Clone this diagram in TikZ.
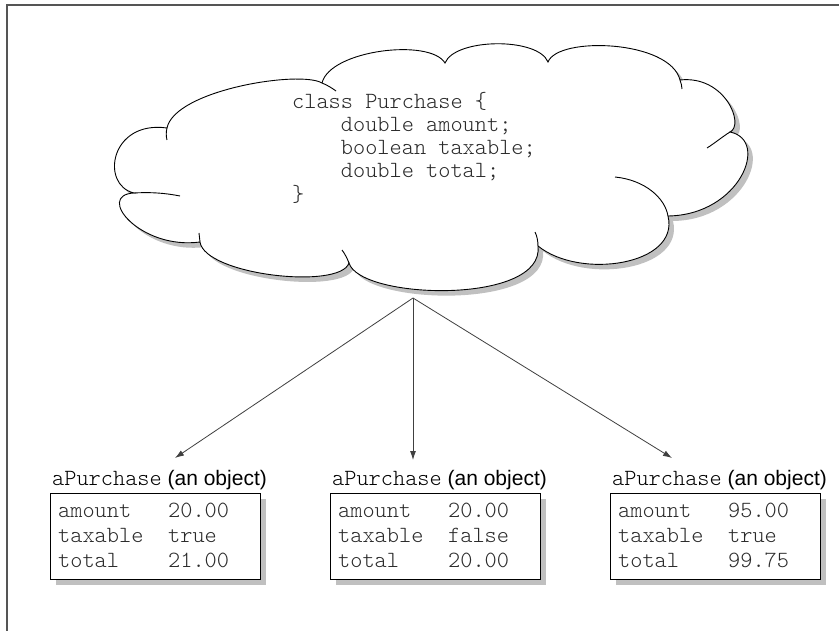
\documentclass[tikz,border=0pt]{standalone}
\usepackage{fontspec}
\setmainfont{Liberation Sans}
\newfontfamily\codefont{lmmonolt10-regular.otf}
\usetikzlibrary{arrows.meta,shadows}
\definecolor{shadowgray}{HTML}{C0C0C0}
\definecolor{codegray}{HTML}{2A2A2A}
\definecolor{framegray}{HTML}{555555}
\newcommand{\cloudoutline}{(134,193) .. controls (100,185) and (110,120) .. (167,128)
 .. controls (175,90) and (300,70) .. (322,83)
 .. controls (330,50) and (430,38) .. (445,63)
 .. controls (455,38) and (538,37) .. (548,62)
 .. controls (558,36) and (670,40) .. (680,80)
 .. controls (725,75) and (745,125) .. (730,132)
 .. controls (770,140) and (740,215) .. (668,216)
 .. controls (680,265) and (580,280) .. (538,246)
 .. controls (545,305) and (360,300) .. (349,263)
 .. controls (340,290) and (205,275) .. (200,242)
 .. controls (140,250) and (95,195) .. (134,193) -- cycle}
\tikzset{
  cloudline/.style={draw=black, line width=0.9pt},
  codetext/.style={font=\codefont\fontsize{23.2}{23}\selectfont, text=codegray, inner sep=0pt},
  boxtext/.style={font=\codefont\fontsize{23.2}{25.5}\selectfont, text=codegray, inner sep=0pt},
  lbl/.style={font=\fontsize{21}{25}\selectfont, text=black, inner sep=0pt},
  objbox/.style={draw=black, fill=white, line width=0.9pt, inner sep=0pt,
    minimum width=210pt, minimum height=86pt,
    drop shadow={shadow xshift=6pt, shadow yshift=-6pt, fill=shadowgray, opacity=1}},
  conn/.style={draw=black!75, line width=0.8pt, -{Latex[length=9pt,width=6pt]}},
  framestyle/.style={draw=framegray, line width=1.4pt}
}
\begin{document}
\begin{tikzpicture}[x=1pt,y=-1pt]
\useasboundingbox (0,0) rectangle (839,631);
\fill[white] (0,0) rectangle (839,631);
\draw[framestyle] (7,631) -- (7,5) -- (839,5);

% cloud
\fill[shadowgray, shift={(5,5)}] \cloudoutline;
\filldraw[fill=white, cloudline] \cloudoutline;
\draw[cloudline] (167,128) .. controls (166,132) and (166,136) .. (167,140);
\draw[cloudline] (322,83) .. controls (327,85) and (332,88) .. (336,91);
\draw[cloudline] (680,80) .. controls (681,83) and (682,86) .. (682,89);
\draw[cloudline] (730,132) .. controls (722,137) and (715,143) .. (707,148);
\draw[cloudline] (668,216) .. controls (665,198) and (645,180) .. (615,177);
\draw[cloudline] (538,246) .. controls (538,241) and (537,236) .. (535,232);
\draw[cloudline] (349,263) .. controls (347,258) and (345,254) .. (342,250);
\draw[cloudline] (200,242) .. controls (200,239) and (199,236) .. (199,233);
\draw[cloudline] (134,193) .. controls (150,192) and (165,193) .. (180,196);

\node[codetext, anchor=base west] (classdef) at (292,109)
 {\begin{tabular}[t]{@{}l@{}}class Purchase \{\\
 \phantom{xxxx}double amount;\\
 \phantom{xxxx}boolean taxable;\\
 \phantom{xxxx}double total;\\
 \}\end{tabular}};

% objects
\node[objbox] (box1) at (155,536) {};
\node[objbox] (box2) at (435,536) {};
\node[objbox] (box3) at (715,536) {};

\node[boxtext, anchor=base west] (rows1) at (58,517)
 {\begin{tabular}[t]{@{}p{110pt}@{}l@{}}amount & 20.00\\ taxable & true\\ total & 21.00\end{tabular}};
\node[boxtext, anchor=base west] (rows2) at (338,517)
 {\begin{tabular}[t]{@{}p{110pt}@{}l@{}}amount & 20.00\\ taxable & false\\ total & 20.00\end{tabular}};
\node[boxtext, anchor=base west] (rows3) at (618,517)
 {\begin{tabular}[t]{@{}p{110pt}@{}l@{}}amount & 95.00\\ taxable & true\\ total & 99.75\end{tabular}};

\node[lbl, anchor=base west] (lab1) at (52,485) {{\codefont\fontsize{23.2}{25}\selectfont aPurchase} (an object)};
\node[lbl, anchor=base west] (lab2) at (332,485) {{\codefont\fontsize{23.2}{25}\selectfont aPurchase} (an object)};
\node[lbl, anchor=base west] (lab3) at (612,485) {{\codefont\fontsize{23.2}{25}\selectfont aPurchase} (an object)};

% connectors
\coordinate (src) at (413,298);
\coordinate (tip1) at (175,458);
\coordinate (tip2) at (413,460);
\coordinate (tip3) at (672,458);
\draw[conn] (src) -- (tip1);
\draw[conn] (src) -- (tip2);
\draw[conn] (src) -- (tip3);
\end{tikzpicture}
\end{document}
